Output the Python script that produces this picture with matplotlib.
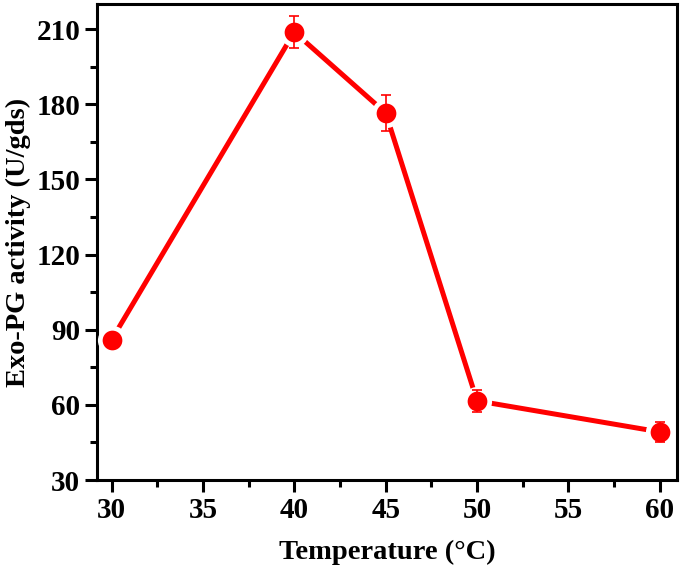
import matplotlib
matplotlib.use("Agg")
import matplotlib.pyplot as plt
from matplotlib.ticker import MultipleLocator

temperature = [30, 40, 45, 50, 60]
activity = [86.0, 208.8, 176.5, 61.6, 49.2]
error = [1.5, 6.5, 7.2, 4.3, 4.0]

plt.rcParams['font.family'] = ['Liberation Serif', 'DejaVu Serif']
plt.rcParams['font.weight'] = 'bold'

fig = plt.figure(figsize=(6.85, 5.69), dpi=100)
ax = fig.add_axes([0.1416, 0.1564, 0.988 - 0.1416, 0.993 - 0.1564])

red = '#ff0000'
ax.plot(temperature, activity, color=red, lw=3.6, zorder=2)
ax.plot(temperature, activity, 'o', color='white', ms=21, mew=0, zorder=3)
ax.errorbar(temperature, activity, yerr=error, fmt='none', ecolor=red, elinewidth=1.2,
            capsize=3.6, capthick=1.2, zorder=4)
ax.plot(temperature, activity, 'o', color=red, ms=14.2, mew=0, zorder=5)

ax.set_xlim(29.2, 60.93)
ax.set_ylim(30, 220)
ax.xaxis.set_major_locator(MultipleLocator(5))
ax.xaxis.set_minor_locator(MultipleLocator(2.5))
ax.yaxis.set_major_locator(MultipleLocator(30))
ax.yaxis.set_minor_locator(MultipleLocator(15))

for s in ax.spines.values():
    s.set_linewidth(2.2)
ax.tick_params(which='major', direction='out', length=8.5, width=2.2, labelsize=21, pad=3.5)
ax.tick_params(which='minor', direction='out', length=5, width=2.2)
for lab in ax.get_xticklabels() + ax.get_yticklabels():
    lab.set_fontweight('bold')

ax.set_xlabel('Temperature (°C)', fontsize=20.5, fontweight='bold', labelpad=12)
ax.set_ylabel('Exo-PG activity (U/gds)', fontsize=20.5, fontweight='bold', labelpad=4)

fig.savefig('out.png', dpi=100)
